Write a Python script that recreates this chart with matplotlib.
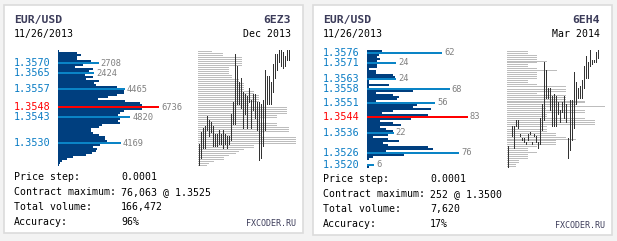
import numpy as np
import matplotlib
matplotlib.use("Agg")
import matplotlib.pyplot as plt
from matplotlib.patches import Rectangle
from matplotlib.transforms import blended_transform_factory

W, H = 617, 241
MONO = "DejaVu Sans Mono"

###################
# data
###################

# Dec 2013 (6EZ3)
dec_prices = [1.3576, 1.3575, 1.3574, 1.3573, 1.3572, 1.3571, 1.3570, 1.3569, 1.3568, 1.3567,
              1.3566, 1.3565, 1.3564, 1.3563, 1.3562, 1.3561, 1.3560, 1.3559, 1.3558, 1.3557,
              1.3556, 1.3555, 1.3554, 1.3553, 1.3552, 1.3551, 1.3550, 1.3549, 1.3548, 1.3547,
              1.3546, 1.3545, 1.3544, 1.3543, 1.3542, 1.3541, 1.3540, 1.3539, 1.3538, 1.3537,
              1.3536, 1.3535, 1.3534, 1.3533, 1.3532, 1.3531, 1.3530, 1.3529, 1.3528, 1.3527,
              1.3526, 1.3525, 1.3524, 1.3523, 1.3522, 1.3521, 1.3520, 1.3519]
dec_volume = [70, 1270, 1530, 1270, 1270, 2200, 2200, 1650, 1130, 2330,
              2070, 2000, 1800, 2330, 1870, 2730, 2400, 2530, 3930, 4400,
              4400, 4400, 3930, 3330, 2670, 4470, 5470, 5600, 5600, 5600,
              4400, 4130, 4000, 4130, 4130, 4000, 4130, 2930, 2730, 2200,
              2200, 2330, 2730, 3130, 3130, 3270, 3000, 2800, 2330, 2600,
              2530, 2270, 1870, 1000, 600, 270, 130, 70]
dec_levels = [1.3570, 1.3565, 1.3557, 1.3548, 1.3543, 1.3530]
dec_level_vol = [2708, 2424, 4465, 6736, 4820, 4169]
dec_current = 1.3548
dec_grey = [13, 24, 24, 43, 43, 43, 43, 43, 30, 30, 30, 30, 33, 33, 40, 40, 45, 45, 45, 45,
            55, 55, 60, 60, 60, 60, 50, 50, 88, 88, 88, 88, 78, 78, 60, 60, 78, 78, 90, 90,
            90, 62, 62, 97, 97, 97, 97, 55, 55, 45, 40, 37, 30, 25, 25, 15, 10, 8]
dec_high = [1.3529, 1.3535, 1.3537, 1.3538, 1.3543, 1.3541, 1.3540, 1.3538, 1.3534, 1.3534,
            1.3536, 1.3534, 1.3536, 1.3534, 1.3533, 1.3533, 1.3544, 1.3550, 1.3574, 1.3568,
            1.3560, 1.3562, 1.3555, 1.3554, 1.3553, 1.3557, 1.3551, 1.3554, 1.3554, 1.3550,
            1.3550, 1.3549, 1.3551, 1.3566, 1.3563, 1.3563, 1.3560, 1.3569, 1.3574, 1.3574,
            1.3576, 1.3576, 1.3575, 1.3573, 1.3576, 1.3576]
dec_low = [1.3519, 1.3523, 1.3528, 1.3528, 1.3537, 1.3534, 1.3536, 1.3529, 1.3529, 1.3529,
           1.3530, 1.3530, 1.3528, 1.3530, 1.3528, 1.3530, 1.3532, 1.3540, 1.3540, 1.3550,
           1.3550, 1.3548, 1.3538, 1.3545, 1.3538, 1.3551, 1.3538, 1.3547, 1.3543, 1.3537,
           1.3522, 1.3523, 1.3529, 1.3537, 1.3550, 1.3550, 1.3550, 1.3556, 1.3563, 1.3567,
           1.3571, 1.3569, 1.3568, 1.3569, 1.3572, 1.3572]
dec_info = ["0.0001", "76,063 @ 1.3525", "166,472", "96%"]

# Mar 2014 (6EH4)
mar_prices = [1.3577, 1.3576, 1.3575, 1.3574, 1.3573, 1.3572, 1.3571, 1.3570, 1.3569, 1.3568,
              1.3567, 1.3566, 1.3565, 1.3564, 1.3563, 1.3562, 1.3561, 1.3560, 1.3559, 1.3558,
              1.3557, 1.3556, 1.3555, 1.3554, 1.3553, 1.3552, 1.3551, 1.3550, 1.3549, 1.3548,
              1.3547, 1.3546, 1.3545, 1.3544, 1.3543, 1.3542, 1.3541, 1.3540, 1.3539, 1.3538,
              1.3537, 1.3536, 1.3535, 1.3534, 1.3533, 1.3532, 1.3531, 1.3530, 1.3529, 1.3528,
              1.3527, 1.3526, 1.3525, 1.3524, 1.3523, 1.3522, 1.3521, 1.3520, 1.3519]
mar_volume = [12, 14, 10, 8, 11, 8, 8, 8, 8, 2,
              7, 7, 21, 23, 23, 2, 2, 18, 2, 38,
              38, 7, 21, 26, 25, 7, 41, 41, 38, 53,
              21, 12, 50, 36, 36, 11, 21, 28, 11, 16,
              21, 13, 17, 5, 17, 26, 13, 17, 50, 54,
              16, 30, 30, 5, 2, 0, 0, 2, 2]
mar_levels = [1.3576, 1.3571, 1.3563, 1.3558, 1.3551, 1.3544, 1.3536, 1.3526, 1.3520]
mar_level_vol = [62, 24, 24, 68, 56, 83, 22, 76, 6]
mar_current = 1.3544
mar_grey = [20, 20, 29, 29, 29, 39, 29, 20, 20, 29, 49, 29, 29, 29, 29, 20, 20, 29, 58, 58,
            58, 29, 58, 58, 58, 77, 77, 68, 97, 38, 77, 77, 39, 39, 77, 87, 87, 87, 39, 39,
            39, 48, 48, 58, 68, 48, 48, 48, 29, 20, 20, 29, 20, 20, 20, 11, 11, 8, 8]
mar_high = [1.3529, np.nan, 1.3539, 1.3539, 1.3542, 1.3542, 1.3535, 1.3533, 1.3533, 1.3531,
            1.3535, 1.3536, 1.3531, 1.3535, 1.3534, 1.3531, 1.3543, 1.3550, 1.3571, 1.3567,
            1.3558, 1.3558, 1.3554, 1.3555, 1.3554, 1.3551, 1.3547, 1.3551, 1.3554, 1.3550,
            1.3533, 1.3552, 1.3552, 1.3566, 1.3561, 1.3558, 1.3559, 1.3562, 1.3569, 1.3574,
            1.3571, 1.3577, 1.3572, 1.3572, 1.3576, 1.3577]
mar_low = [1.3519, np.nan, 1.3535, 1.3529, 1.3540, 1.3539, 1.3535, 1.3533, 1.3532, 1.3531,
           1.3533, 1.3536, 1.3531, 1.3535, 1.3532, 1.3529, 1.3531, 1.3538, 1.3543, 1.3554,
           1.3554, 1.3548, 1.3540, 1.3540, 1.3540, 1.3546, 1.3542, 1.3547, 1.3544, 1.3542,
           1.3524, 1.3528, 1.3533, 1.3539, 1.3551, 1.3554, 1.3554, 1.3554, 1.3559, 1.3564,
           1.3564, 1.3570, 1.3571, 1.3572, 1.3572, 1.3574]
mar_info = ["0.0001", "252 @ 1.3500", "7,620", "17%"]

info_labels = ["Price step:", "Contract maximum:", "Total volume:", "Accuracy:"]

DARK = "#003f7f"
LIGHT = "#0a84c6"
LABEL_BLUE = "#0a7cc4"
TITLE = "#3c3c5a"

fig = plt.figure(figsize=(W / 100, H / 100), dpi=100, facecolor="#f3f3f3")

# background in pixel coordinates
bg = fig.add_axes([0, 0, 1, 1])
bg.set_xlim(0, W)
bg.set_ylim(H, 0)
bg.axis("off")


def px_axes(x0, y0, x1, y1):
    ax = fig.add_axes([x0 / W, 1 - y1 / H, (x1 - x0) / W, (y1 - y0) / H])
    ax.axis("off")
    return ax


def panel(x0, x1, y1, y_top_px, y_bot_px, plo, phi, px_per_vol,
          prices, volume, levels, level_vol, current, grey, high, low,
          pair, date, code, month, info):
    bg.add_patch(Rectangle((x0, 5), x1 - x0, y1 - 5, facecolor="white",
                           edgecolor="#dcdcdc", linewidth=1.2))
    # titles
    bg.text(x0 + 10, 20, pair, fontfamily=MONO, fontweight="bold", fontsize=8.2,
            color=TITLE, va="center", ha="left")
    bg.text(x0 + 10, 34, date, fontfamily=MONO, fontsize=7.1, color="black",
            va="center", ha="left")
    bg.text(x1 - 12, 20, code, fontfamily=MONO, fontweight="bold", fontsize=8.2,
            color=TITLE, va="center", ha="right")
    bg.text(x1 - 12, 34, month, fontfamily=MONO, fontsize=7.1, color="black",
            va="center", ha="right")

    # volume profile
    prof_x0 = x0 + 54
    prof_w = 140
    ax = px_axes(prof_x0, y_top_px, prof_x0 + prof_w, y_bot_px)
    ax.set_xlim(0, prof_w / px_per_vol)
    ax.set_ylim(plo, phi)
    step = (phi - plo) / (y_bot_px - y_top_px)  # price per pixel
    ax.barh(prices, volume, height=0.0001, color=DARK, linewidth=0, antialiased=False)
    blend = blended_transform_factory(bg.transData, ax.transData)
    for p, v in zip(levels, level_vol):
        red = p == current
        ax.barh(p, v, height=0.0001, color="#ff0000" if red else LIGHT,
                linewidth=0, antialiased=False)
        ax.text(v + 2 / px_per_vol, p, f"{v}", fontfamily=MONO,
                fontsize=6.3, color="#808080", va="center", ha="left", clip_on=False)
        ax.text(x0 + 10, p, f"{p:.4f}", transform=blend, fontfamily=MONO, fontsize=7.3,
                color="#ff0000" if red else LABEL_BLUE, va="center", ha="left")

    # mini chart
    mx0 = x0 + 194
    mini = px_axes(mx0, y_top_px, mx0 + 100, y_bot_px)
    mini.set_xlim(0, 100)
    mini.set_ylim(plo, phi)
    mini.hlines(np.array(prices) + step / 2, 0, grey, color="#bdbdbd",
                linewidth=0.72, antialiased=False)
    xs = np.arange(len(high)) * 2 + 0.5
    hi = np.array(high) + 0.00004
    lo = np.array(low) - 0.00004
    mini.vlines(xs, lo, hi, color="#333333", linewidth=0.72, antialiased=False)

    # info block
    rows = [y_bot_px + 11, y_bot_px + 26, y_bot_px + 41, y_bot_px + 56]
    for y, lab, val in zip(rows, info_labels, info):
        bg.text(x0 + 10, y, lab, fontfamily=MONO, fontsize=7.1, color="black",
                va="center", ha="left")
        bg.text(x0 + 117, y, val, fontfamily=MONO, fontsize=7.1, color="black",
                va="center", ha="left")
    bg.text(x1 - 7, rows[-1] + 1, "FXCODER.RU", fontfamily=MONO, fontsize=6,
            color=TITLE, va="center", ha="right")


panel(4, 303, 233, 50, 166, 1.35185, 1.35765, 101 / 6736,
      dec_prices, dec_volume, dec_levels, dec_level_vol, dec_current, dec_grey,
      dec_high, dec_low, "EUR/USD", "11/26/2013", "6EZ3", "Dec 2013", dec_info)

panel(313, 612, 235, 50, 168, 1.35185, 1.35775, 101 / 83,
      mar_prices, mar_volume, mar_levels, mar_level_vol, mar_current, mar_grey,
      mar_high, mar_low, "EUR/USD", "11/26/2013", "6EH4", "Mar 2014", mar_info)

plt.savefig("out.png", dpi=100, facecolor=fig.get_facecolor())
